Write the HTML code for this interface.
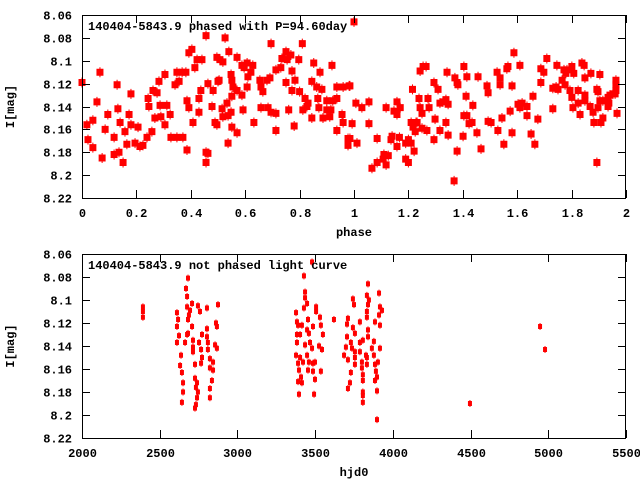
<!DOCTYPE html>
<html><head><meta charset="utf-8"><style>
html,body{margin:0;padding:0;background:#fff;}
svg{display:block;font-family:"Liberation Mono","DejaVu Sans Mono",monospace;font-size:12px;font-weight:bold;}
</style></head><body>
<svg id="chart" width="640" height="480" xmlns="http://www.w3.org/2000/svg"></svg>
<script>
// ---- Top panel data (phase, magnitude) ----
const phaseVals=[0,.066,.129,.055,.18,.018,.04,.022,.04,.074,.085,.095,.118,.118,.132,.14,.151,.136,.158,.165,.173,.18,.195,.206,.213,.224,.239,.243,.246,.257,.261,.268,.276,.283,.287,.29,.305,.305,.312,.324,.327,.342,.349,.349,.357,.368,.371,.382,.386,.386,.393,.393,.404,.408,.415,.423,.43,.43,.437,.441,.456,.456,.456,.463,.463,.478,.482,.489,.496,.5,
.526,.540,.507,.518,.504,.548,.551,.555,.57,.551,.588,.533,.515,.548,.518,.537,.496,.551,.57,.537,.57,.588,.596,.607,.61,.607,.592,.621,.628,.632,.654,.658,.665,.68,.691,.658,.684,.695,.695,.713,.713,.713,.731,.735,.75,.754,.768,.75,.772,.783,.772,.797,.81,.8,.76,.78,.812,.82,.827,.831,.845,.845,.852,.863,.867,.871,.875,.882,.886,.9,.9,.911,.915,.919,.922,.937,.937,.937,.956,.96,.96,.978,.978,.982,.993,1.0,
.985,.985,1.007,1.011,1.029,1.055,1.055,1.066,1.085,1.085,1.107,1.11,1.118,1.118,1.126,1.136,1.14,1.147,1.158,1.158,1.158,1.167,1.17,1.19,1.19,1.2,1.2,1.21,1.21,1.215,1.217,1.221,1.225,1.228,1.232,1.239,1.243,1.243,1.25,1.254,1.265,1.25,1.268,1.272,1.276,1.294,1.294,1.298,1.309,1.316,1.316,1.327,1.338,1.342,1.338,1.346,1.346,1.368,1.371,1.379,1.382,1.379,1.401,1.404,1.404,1.412,1.415,1.415,1.423,1.434,1.437,1.452,1.456,1.467,1.489,1.493,
1.493,1.504,1.526,1.529,1.537,1.537,1.544,1.551,1.562,1.566,1.574,1.581,1.581,1.588,1.603,1.61,1.61,1.618,1.636,1.636,1.651,1.658,1.665,1.676,1.687,1.687,1.698,1.709,1.731,1.731,1.743,1.746,1.75,1.765,1.772,1.779,1.776,1.783,1.794,1.801,1.801,1.805,1.808,1.824,1.824,1.831,1.838,1.846,1.849,1.849,1.849,1.871,1.868,1.879,1.882,1.893,1.893,1.897,1.897,1.904,1.904,1.908,1.915,1.915,1.93,1.934,1.934,1.937,1.941,1.952,1.96,1.963,1.963,1.963,1.967];
const phaseMags=[8.119,8.110,8.121,8.136,8.129,8.156,8.152,8.169,8.176,8.185,8.160,8.147,8.167,8.182,8.142,8.154,8.189,8.180,8.162,8.173,8.147,8.156,8.172,8.158,8.175,8.174,8.167,8.133,8.140,8.162,8.126,8.150,8.128,8.118,8.139,8.149,8.112,8.156,8.139,8.147,8.167,8.121,8.167,8.110,8.118,8.110,8.167,8.110,8.135,8.178,8.141,8.093,8.090,8.154,8.106,8.099,8.133,8.145,8.126,8.099,8.078,8.180,8.189,8.120,8.181,8.140,8.126,8.154,8.097,8.118,
8.080,8.092,8.099,8.101,8.117,8.112,8.117,8.123,8.126,8.131,8.130,8.137,8.142,8.145,8.149,8.148,8.156,8.158,8.163,8.172,8.097,8.104,8.106,8.102,8.114,8.123,8.143,8.110,8.104,8.154,8.117,8.123,8.127,8.117,8.115,8.141,8.141,8.085,8.145,8.146,8.161,8.108,8.106,8.098,8.092,8.099,8.095,8.119,8.109,8.117,8.126,8.099,8.085,8.127,8.143,8.157,8.143,8.133,8.140,8.137,8.118,8.150,8.102,8.123,8.133,8.141,8.110,8.125,8.150,8.135,8.143,8.149,8.143,8.104,8.135,8.133,8.123,8.161,8.147,8.123,8.154,8.168,8.174,8.122,8.155,8.066,
8.122,8.168,8.137,8.172,8.141,8.136,8.155,8.194,8.168,8.189,8.186,8.182,8.191,8.141,8.183,8.169,8.166,8.144,8.175,8.136,8.147,8.167,8.141,8.172,8.186,8.189,8.169,8.154,8.172,8.125,8.158,8.179,8.162,8.154,8.154,8.133,8.141,8.109,8.146,8.105,8.105,8.159,8.161,8.133,8.141,8.119,8.169,8.151,8.125,8.137,8.161,8.136,8.134,8.110,8.154,8.138,8.165,8.205,8.115,8.119,8.121,8.179,8.166,8.105,8.148,8.131,8.148,8.114,8.155,8.154,8.139,8.163,8.114,8.177,8.122,8.153,
8.128,8.154,8.110,8.161,8.115,8.121,8.150,8.173,8.107,8.105,8.144,8.122,8.163,8.093,8.138,8.141,8.104,8.137,8.140,8.148,8.164,8.131,8.173,8.151,8.107,8.119,8.110,8.098,8.124,8.142,8.123,8.104,8.125,8.117,8.108,8.111,8.121,8.108,8.126,8.105,8.132,8.141,8.111,8.137,8.126,8.147,8.102,8.104,8.115,8.130,8.135,8.111,8.140,8.145,8.154,8.125,8.189,8.127,8.141,8.112,8.135,8.154,8.150,8.135,8.135,8.132,8.140,8.137,8.130,8.129,8.129,8.117,8.121,8.126,8.146];
// ---- Bottom panel data (hjd0, magnitude) ----
const hjdVals=[2392,2392,2392,2682,2669,2676,2676,2695,2708,2611,2618,2611,2624,2611,2688,2682,2708,2682,2676,2663,2714,2714,2714,2746,2759,2804,2875,2772,2753,2772,2766,2727,2637,2631,2643,2650,2650,2643,2727,2740,2733,2746,2740,2733,2727,2804,2804,2810,2810,2823,2843,2823,2843,2836,2823,2823,2862,2868,2856,2868,2766,
3480,3428,3435,3435,3448,3428,3506,3506,3377,3383,3390,3415,3454,3486,3460,3448,3531,3537,3550,3383,3403,3383,3435,3467,3480,3377,3403,3448,3486,3525,3544,3390,3422,3460,3499,3396,3454,3486,3537,3409,3390,3415,3499,3396,3493,3621,
3840,3743,3750,3833,3846,3840,3833,3911,3917,3930,3911,3833,3711,3705,3743,3788,3756,3840,3885,3917,3705,3730,3788,3807,3840,3878,3698,3737,3756,3788,3827,3865,3917,3686,3711,3756,3801,3833,3878,3904,3756,3801,3833,3885,3730,3807,3891,3898,3807,3885,3724,3807,3711,3807,3898,3807,3898,4496,4947,4979];
const hjdMags=[8.106,8.110,8.115,8.081,8.090,8.097,8.106,8.109,8.103,8.111,8.117,8.123,8.131,8.137,8.113,8.117,8.123,8.129,8.130,8.137,8.135,8.141,8.145,8.105,8.110,8.107,8.104,8.130,8.137,8.150,8.155,8.156,8.148,8.157,8.163,8.172,8.180,8.189,8.168,8.172,8.176,8.180,8.185,8.191,8.194,8.125,8.132,8.137,8.143,8.151,8.154,8.159,8.161,8.170,8.177,8.185,8.120,8.123,8.139,8.142,8.143,
8.067,8.079,8.093,8.098,8.103,8.107,8.106,8.110,8.111,8.119,8.122,8.122,8.117,8.123,8.129,8.126,8.115,8.122,8.130,8.130,8.130,8.137,8.139,8.137,8.142,8.148,8.150,8.148,8.155,8.140,8.143,8.155,8.154,8.154,8.154,8.161,8.161,8.162,8.162,8.167,8.171,8.172,8.169,8.182,8.182,8.117,
8.086,8.099,8.104,8.096,8.100,8.104,8.110,8.094,8.106,8.109,8.113,8.115,8.116,8.121,8.124,8.119,8.129,8.126,8.119,8.122,8.132,8.137,8.137,8.135,8.132,8.136,8.141,8.142,8.145,8.145,8.148,8.142,8.142,8.148,8.152,8.150,8.154,8.150,8.148,8.154,8.156,8.159,8.156,8.156,8.163,8.165,8.162,8.167,8.170,8.170,8.172,8.183,8.177,8.180,8.179,8.189,8.204,8.190,8.123,8.143];
const yTicks=[8.06,8.08,8.1,8.12,8.14,8.16,8.18,8.2,8.22];
const yTickLabels=["8.06","8.08","8.1","8.12","8.14","8.16","8.18","8.2","8.22"];
const phaseTicks=[0,0.2,0.4,0.6,0.8,1,1.2,1.4,1.6,1.8,2];
const phaseTickLabels=["0","0.2","0.4","0.6","0.8","1","1.2","1.4","1.6","1.8","2"];
const hjdTicks=[2000,2500,3000,3500,4000,4500,5000,5500];
const hjdTickLabels=["2000","2500","3000","3500","4000","4500","5000","5500"];

const NS="http://www.w3.org/2000/svg";
const svg=document.getElementById('chart');
function mk(tag,attrs,parent){const e=document.createElementNS(NS,tag);for(const k in attrs)e.setAttribute(k,attrs[k]);(parent||svg).appendChild(e);return e;}
const L=82,R=626;
function panel(top,bottom,xmin,xmax,xticks,xlabels,xs,ys,title,xtitle,big,prefix){
  const sx=v=>L+(v-xmin)/(xmax-xmin)*(R-L);
  const sy=v=>top+(v-8.06)/0.16*(bottom-top);
  const g=mk('g',{});
  
  
  const pts=mk('g',{fill:'#ff0000',stroke:'#ff0000'},g);
  
  
  for(let i=0;i<xs.length;i++){
    const x=sx(xs[i]),y=sy(ys[i]);
    let p;
    if(big){p=mk('path',{d:`M${x-3},${y-3}h6v6h-6z M${x},${y-5}v10`,'stroke-width':1},pts);}
    else{p=mk('path',{d:`M${x-1.5},${y-2}h3v4h-3z M${x},${y-3.5}v7`,'stroke-width':1},pts);}
    
    
  }
  const fr=mk('rect',{x:L+.5,y:top+.5,width:R-L-1,height:bottom-top,fill:'none',stroke:'#000','stroke-width':1},g);
  
  
  for(let i=0;i<yTicks.length;i++){
    const y=Math.round(sy(yTicks[i]))+.5;
    mk('path',{d:`M${L},${y}h8M${R},${y}h-8`,stroke:'#000'},g);
    const t=mk('text',{x:72,y:y+4,'text-anchor':'end'},g);t.textContent=yTickLabels[i];
    
    
  }
  for(let i=0;i<xticks.length;i++){
    const x=Math.round(sx(xticks[i]))+.5;
    mk('path',{d:`M${x},${bottom}v-8M${x},${top}v8`,stroke:'#000'},g);
    const t=mk('text',{x:x,y:bottom+19,'text-anchor':'middle'},g);t.textContent=xlabels[i];
    
    
  }
  const tt=mk('text',{x:88,y:top+15},g);tt.textContent=title;
  
  
  const xt=mk('text',{x:(L+R)/2,y:bottom+38,'text-anchor':'middle'},g);xt.textContent=xtitle;
  
  
  const cy=(top+bottom)/2;
  const yt=mk('text',{x:14,y:cy,'text-anchor':'middle',transform:`rotate(-90 14 ${cy})`},g);yt.textContent='I[mag]';
  
  
}
panel(15,198,0,2,phaseTicks,phaseTickLabels,phaseVals,phaseMags,'140404-5843.9 phased with P=94.60day','phase',true,'phased');
panel(254,438,2000,5500,hjdTicks,hjdTickLabels,hjdVals,hjdMags,'140404-5843.9 not phased light curve','hjd0',false,'unphased');
</script>
</body></html>
